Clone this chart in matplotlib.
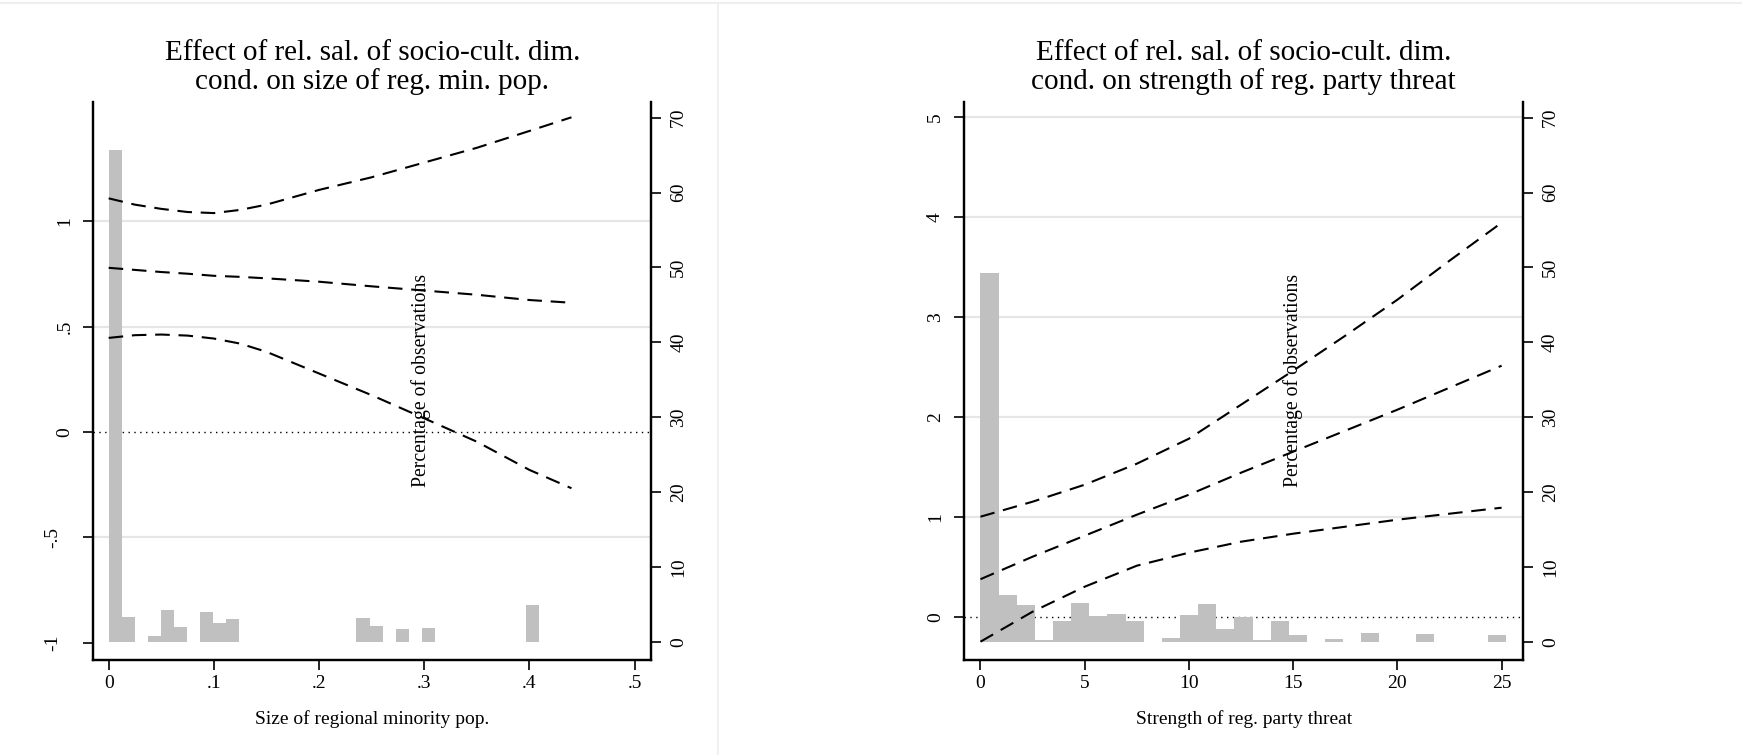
import matplotlib
matplotlib.use("Agg")
import matplotlib.pyplot as plt
from matplotlib.lines import Line2D
from matplotlib.transforms import blended_transform_factory, ScaledTranslation
import numpy as np

plt.rcParams['font.family'] = ['Liberation Serif', 'DejaVu Serif']

# ---------------- data ----------------
titles = ["Effect of rel. sal. of socio-cult. dim.\ncond. on size of reg. min. pop.",
          "Effect of rel. sal. of socio-cult. dim.\ncond. on strength of reg. party threat"]
xlabels = ["Size of regional minority pop.", "Strength of reg. party threat"]
hist_label = "Percentage of observations"

# Panel 1: size of regional minority population
minpop_x = [0, 0.025, 0.05, 0.075, 0.1, 0.125, 0.15, 0.2, 0.25, 0.3, 0.35, 0.4, 0.44]
minpop_upper = [1.11, 1.08, 1.06, 1.045, 1.04, 1.055, 1.08, 1.15, 1.21, 1.28, 1.35, 1.43, 1.495]
minpop_effect = [0.78, 0.77, 0.76, 0.752, 0.742, 0.737, 0.73, 0.714, 0.692, 0.672, 0.652, 0.627, 0.614]
minpop_lower = [0.447, 0.46, 0.463, 0.458, 0.444, 0.42, 0.381, 0.278, 0.175, 0.065, -0.046, -0.18, -0.267]
minpop_bin_width = 0.0124
minpop_hist_pct = [65.7, 3.3, 0, 0.8, 4.27, 1.96, 0, 4.0, 2.53, 3.02,
                   0, 0, 0, 0, 0, 0, 0, 0, 0,
                   3.24, 2.09, 0, 1.73, 0, 1.82,
                   0, 0, 0, 0, 0, 0, 0, 4.93]
minpop_xticks = [0, 0.1, 0.2, 0.3, 0.4, 0.5]
minpop_xticklabels = ["0", ".1", ".2", ".3", ".4", ".5"]
minpop_yticks = [-1, -0.5, 0, 0.5, 1]
minpop_yticklabels = ["-1", "-.5", "0", ".5", "1"]

# Panel 2: strength of regional party threat
threat_x = [0, 2.5, 5, 7.5, 10, 12.5, 15, 17.5, 20, 22.5, 25]
threat_upper = [1.0, 1.15, 1.32, 1.53, 1.78, 2.12, 2.46, 2.81, 3.17, 3.56, 3.94]
threat_effect = [0.375, 0.6, 0.81, 1.02, 1.22, 1.44, 1.65, 1.86, 2.07, 2.29, 2.51]
threat_lower = [-0.25, 0.05, 0.3, 0.51, 0.64, 0.75, 0.83, 0.90, 0.97, 1.03, 1.09]
threat_bin_width = 0.87
threat_hist_pct = [49.2, 6.3, 4.9, 0.3, 2.8, 5.24, 3.47, 3.73, 2.8, 0,
                   0.57, 3.6, 5.1, 1.77, 3.28, 0.3, 2.8, 0.88, 0, 0.44,
                   0, 1.24, 0, 0, 1.07, 0, 0, 0, 0.97]
threat_xticks = [0, 5, 10, 15, 20, 25]
threat_xticklabels = ["0", "5", "10", "15", "20", "25"]
threat_yticks = [0, 1, 2, 3, 4, 5]
threat_yticklabels = ["0", "1", "2", "3", "4", "5"]

pct_ticks = [0, 10, 20, 30, 40, 50, 60, 70]

# ---------------- figure ----------------
W, H = 1742, 755
fig = plt.figure(figsize=(W / 100, H / 100), dpi=100)
fig.patch.set_facecolor("white")

# faint panel borders (graph combine)
fig.add_artist(Line2D([0, 717 / W], [1 - 3 / H, 1 - 3 / H], color="#eeeeee", lw=1.5))
fig.add_artist(Line2D([719 / W, 1], [1 - 3 / H, 1 - 3 / H], color="#eeeeee", lw=1.5))
fig.add_artist(Line2D([718 / W, 718 / W], [0, 1 - 3 / H], color="#eeeeee", lw=1.2))

def px_rect(x0, x1, ytop, ybot):
    return [x0 / W, 1 - ybot / H, (x1 - x0) / W, (ybot - ytop) / H]

panels = [
    dict(rect=px_rect(93.4, 651.4, 101.5, 660), x=minpop_x, up=minpop_upper, mid=minpop_effect,
         lo=minpop_lower, bw=minpop_bin_width, hist=minpop_hist_pct, xlim=(-0.0145, 0.516),
         ylim=(-1.083, 1.570), xt=minpop_xticks, xtl=minpop_xticklabels, yt=minpop_yticks,
         ytl=minpop_yticklabels, grid=[-0.5, 0.5, 1], title=titles[0], xlabel=xlabels[0]),
    dict(rect=px_rect(964, 1523.3, 101.5, 660), x=threat_x, up=threat_upper, mid=threat_effect,
         lo=threat_lower, bw=threat_bin_width, hist=threat_hist_pct, xlim=(-0.79, 26.04),
         ylim=(-0.433, 5.152), xt=threat_xticks, xtl=threat_xticklabels, yt=threat_yticks,
         ytl=threat_yticklabels, grid=[1, 2, 3, 4, 5], title=titles[1], xlabel=xlabels[1]),
]

for p in panels:
    ax_h = fig.add_axes(p["rect"])          # histogram axis (percent, right side)
    ax_l = ax_h.twinx()                      # effect axis (left side)
    ax_l.set_zorder(ax_h.get_zorder() + 1)
    ax_l.patch.set_visible(False)

    ax_h.set_xlim(*p["xlim"])
    ax_h.set_ylim(-2.40, 72.15)
    ax_l.set_ylim(*p["ylim"])

    # grid lines & zero line drawn beneath the bars (in effect-axis data units)
    tr = blended_transform_factory(ax_h.transAxes, ax_l.transData)
    for g in p["grid"]:
        ax_h.add_line(Line2D([0, 1], [g, g], transform=tr, color="#e6e6e6", lw=1.6, zorder=0.5))
    ax_h.add_line(Line2D([0, 1], [0, 0], transform=tr, color="black", lw=1.0,
                         linestyle=(0, (1, 3.2)), zorder=0.6))

    # histogram
    nb = len(p["hist"])
    edges = np.arange(nb) * p["bw"]
    ax_h.bar(edges, p["hist"], width=p["bw"], align="edge", color="#c0c0c0",
             edgecolor="none", linewidth=0, zorder=1)

    # effect and confidence bounds
    for ys in (p["up"], p["mid"], p["lo"]):
        ax_l.plot(p["x"], ys, color="black", lw=1.5, linestyle=(0, (7, 4.2)),
                  dash_capstyle="butt")

    # axes styling
    for a in (ax_h, ax_l):
        a.spines["top"].set_visible(False)
        for s in ("left", "right", "bottom"):
            a.spines[s].set_linewidth(1.6)
            a.spines[s].set_color("black")

    ax_h.yaxis.tick_right()
    ax_h.set_yticks(pct_ticks)
    ax_h.set_yticklabels([str(t) for t in pct_ticks], rotation=90, va="center")
    ax_h.tick_params(axis="y", direction="out", length=7.5, width=1.2, pad=6,
                     labelsize=14, right=True, left=False)
    ax_h.set_xticks(p["xt"])
    ax_h.set_xticklabels(p["xtl"])
    ax_h.tick_params(axis="x", direction="out", length=7.5, width=1.2, pad=3, labelsize=14)

    ax_l.yaxis.tick_left()
    ax_l.set_yticks(p["yt"])
    ax_l.set_yticklabels(p["ytl"], rotation=90, va="center")
    ax_l.tick_params(axis="y", direction="out", length=7.5, width=1.2, pad=7,
                     labelsize=14, left=True, right=False)
    # Stata places labels with a leading minus slightly further out
    for lab in ax_l.get_yticklabels():
        if lab.get_text().startswith("-"):
            lab.set_transform(lab.get_transform() + ScaledTranslation(-0.12, 0, fig.dpi_scale_trans))

    ax_l.set_ylabel(hist_label, fontsize=14.2)
    ax_l.yaxis.set_label_coords(0.57, 0.5)

    ax_h.set_xlabel(p["xlabel"], fontsize=14, labelpad=13)
    ax_h.set_title(p["title"], fontsize=21, pad=9, linespacing=1.08)

fig.savefig("out.png", dpi=100, facecolor="white")
